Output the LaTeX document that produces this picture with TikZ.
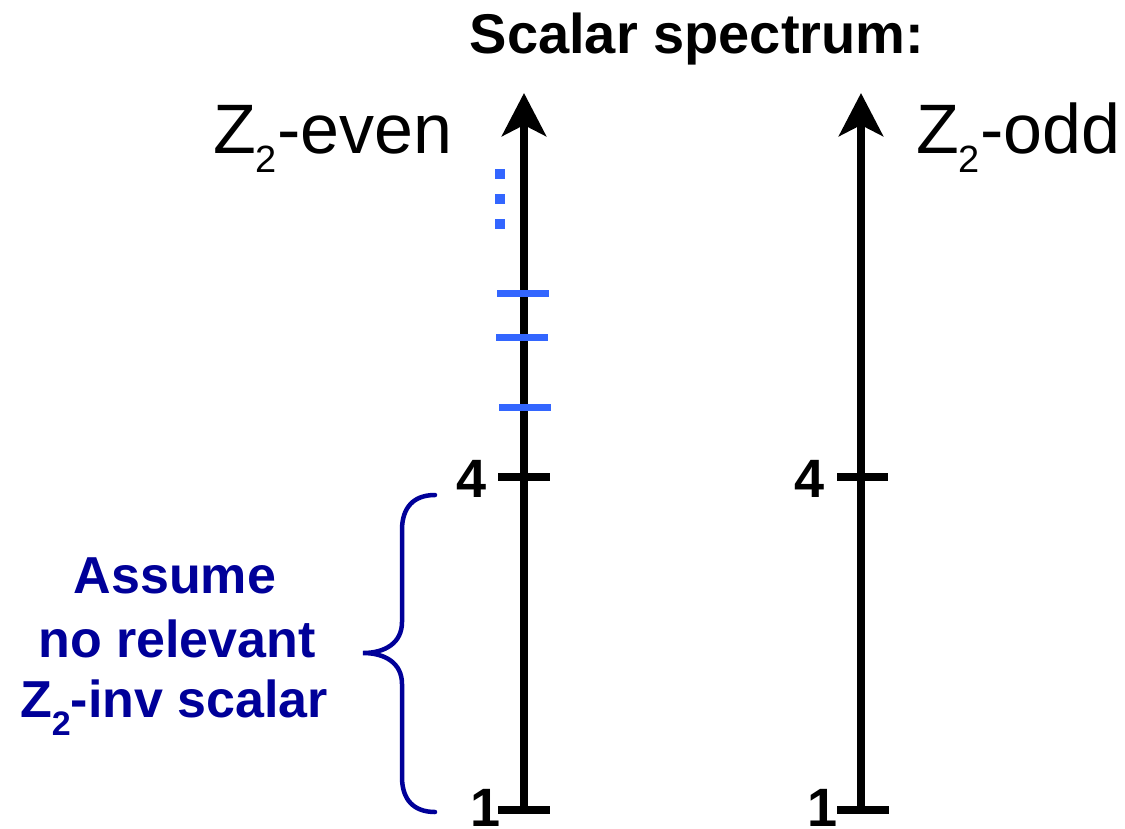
\documentclass[tikz,border=0pt]{standalone}
\usepackage{fontspec}
\setmainfont{Liberation Sans}
\usetikzlibrary{arrows.meta}
\definecolor{navyblue}{RGB}{0,0,153}
\definecolor{levelblue}{RGB}{51,102,255}
\tikzset{
  axisline/.style={line width=8pt, -{Stealth[length=43pt,width=44pt,inset=11pt]}},
  tickline/.style={line width=8pt},
  leveltick/.style={line width=7pt, levelblue},
  leveldot/.style={fill=levelblue, minimum size=10pt, inner sep=0pt, draw=none, rectangle},
  digit/.style={inner sep=0pt, anchor=base east, font=\bfseries\fontsize{54}{60}\selectfont},
  sectorlabel/.style={inner sep=0pt, anchor=base west, font=\fontsize{70}{80}\selectfont},
  bluetext/.style={inner sep=0pt, anchor=base, text=navyblue, font=\bfseries\fontsize{52}{60}\selectfont},
  bracestyle/.style={navyblue, line width=4.5pt, line cap=round}
}
\newcommand{\subtwo}[2]{\raisebox{-#2pt}{\fontsize{#1}{#1}\selectfont 2}}
\begin{document}
\begin{tikzpicture}[x=1pt,y=-1pt]
\useasboundingbox (0,0) rectangle (1125,828);
% title
\node[inner sep=0pt, anchor=base, font=\bfseries\fontsize{56}{60}\selectfont] (title) at (697,53) {Scalar spectrum:};
% axes coordinates
\coordinate (ebot) at (524,810);
\coordinate (etop) at (524,93);
\coordinate (obot) at (861,810);
\coordinate (otop) at (861,93);
\coordinate (efour) at (524,477);
\coordinate (ofour) at (861,477);
% axes
\draw[axisline] (ebot) -- (etop);
\draw[axisline] (obot) -- (otop);
% black ticks
\draw[tickline] ([xshift=-26pt]ebot) -- ([xshift=26pt]ebot);
\draw[tickline] ([xshift=-26pt]efour) -- ([xshift=26pt]efour);
\draw[tickline] ([xshift=-24pt]obot) -- ([xshift=28pt]obot);
\draw[tickline] ([xshift=-24pt]ofour) -- ([xshift=27pt]ofour);
% blue level ticks
\coordinate (l1) at (524,293);
\coordinate (l2) at (524,337);
\coordinate (l3) at (524,407);
\draw[leveltick] ([xshift=-27pt]l1) -- ([xshift=25pt]l1);
\draw[leveltick] ([xshift=-28pt]l2) -- ([xshift=24pt]l2);
\draw[leveltick] ([xshift=-25pt]l3) -- ([xshift=27pt]l3);
% dots
\node[leveldot] (d1) at (500,174) {};
\node[leveldot] (d2) at (500,199) {};
\node[leveldot] (d3) at (500,224) {};
% digits
\node[digit] (e4) at (487,497) {4};
\node[digit] (e1) at (501,826) {1};
\node[digit] (o4) at (825,497) {4};
\node[digit] (o1) at (838,826) {1};
% sector labels
\node[sectorlabel] (even) at (213,153) {Z\subtwo{38}{19}-even};
\node[sectorlabel] (odd) at (916,153) {Z\subtwo{38}{19}-odd};
% brace
\coordinate (bt) at (435,495);
\coordinate (bb) at (435,812);
\coordinate (btip) at (363,653);
\draw[bracestyle] (bt) .. controls (414,495) and (402,507) .. (402,530)
  -- (402,622) .. controls (402,643) and (385,653) .. (btip)
  .. controls (385,653) and (402,663) .. (402,684)
  -- (402,777) .. controls (402,800) and (414,812) .. (bb);
% blue text
\node[bluetext] (t1) at (175,593) {Assume};
\node[bluetext] (t2) at (177,657) {no relevant};
\node[bluetext] (t3) at (174,717) {Z\subtwo{34}{18}-inv scalar};
\end{tikzpicture}
\end{document}
